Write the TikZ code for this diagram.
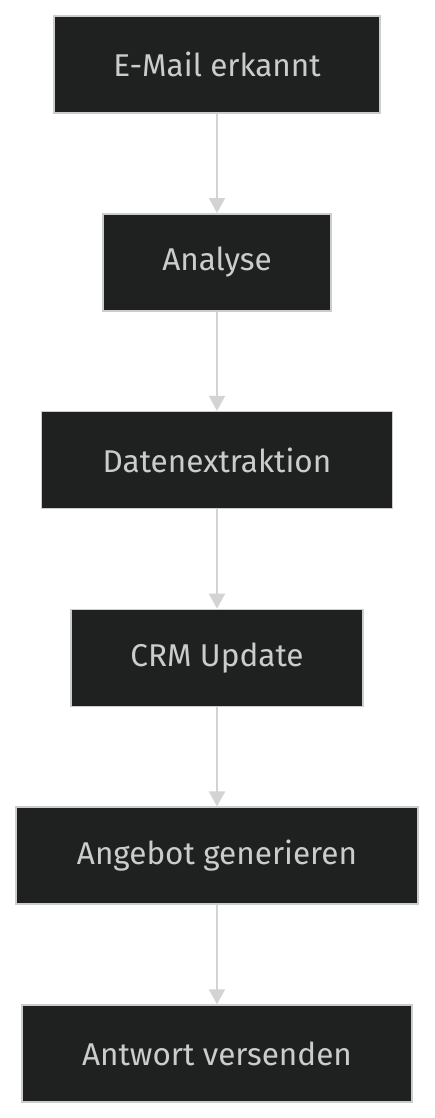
\documentclass[tikz,border=0pt]{standalone}
\usepackage{fontspec}
\setmainfont{Fira Sans}
\usetikzlibrary{positioning,arrows.meta}
\definecolor{boxfill}{HTML}{1F2020}
\definecolor{boxline}{HTML}{CCCCCC}
\definecolor{flowline}{HTML}{D3D3D3}
\tikzset{
    stepbox/.style={draw=boxline, fill=boxfill, line width=1.5pt, text=boxline,
        minimum height=97pt, inner xsep=0pt, font=\fontsize{31.5}{36}\selectfont},
    flow/.style={draw=flowline, line width=2pt, -{Triangle[length=15pt,width=16pt]}}
}
\begin{document}
\begin{tikzpicture}[x=1pt,y=1pt,node distance=99.3pt]
        \useasboundingbox (0,0) rectangle (435,-1118);
        \node[stepbox, minimum width=326pt] (mail) at (217,-64.5) {E-Mail erkannt};
        \node[stepbox, minimum width=228pt, below=of mail] (analyse) {Analyse};
        \node[stepbox, minimum width=351pt, below=of analyse] (extract) {Datenextraktion};
        \node[stepbox, minimum width=292pt, below=of extract] (crm) {CRM Update};
        \node[stepbox, minimum width=402pt, below=of crm] (offer) {Angebot generieren};
        \node[stepbox, minimum width=390pt, below=of offer] (reply) {Antwort versenden};
        \draw[flow] (mail) -- (analyse);
        \draw[flow] (analyse) -- (extract);
        \draw[flow] (extract) -- (crm);
        \draw[flow] (crm) -- (offer);
        \draw[flow] (offer) -- (reply);
    \end{tikzpicture}
\end{document}
